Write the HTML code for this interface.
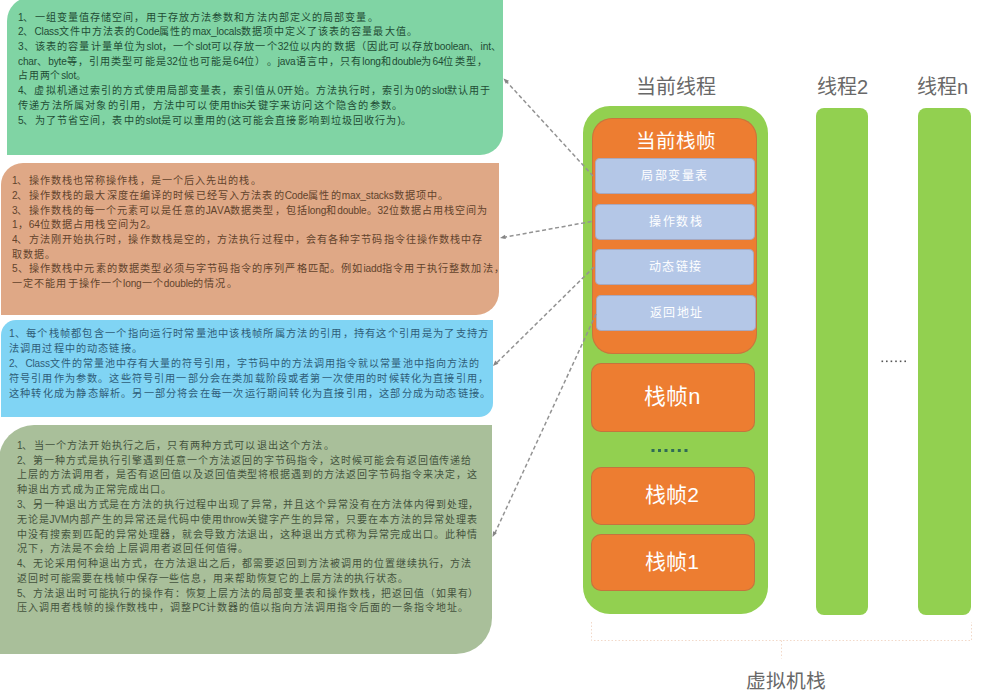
<!DOCTYPE html>
<html lang="zh-CN"><head><meta charset="utf-8">
<style>
html,body{margin:0;padding:0;background:#fff;width:1000px;height:699px;overflow:hidden;position:relative;font-family:"Liberation Sans",sans-serif;}
.a{position:absolute;}
.box{position:absolute;}
.t{position:absolute;white-space:nowrap;font-size:10px;letter-spacing:1px;font-weight:500;line-height:14px;transform-origin:0 0;text-spacing-trim:space-all;font-kerning:none;}
.t i{font-style:normal;letter-spacing:-0.15px;}
.lbl{position:absolute;white-space:nowrap;text-align:center;}
</style></head><body>

<!-- left boxes -->
<div class="box" style="left:7px;top:-3px;width:496px;height:158px;background:#80d4a4;border-radius:24px 0 23px 0;"></div>
<div class="box" style="left:1px;top:163px;width:498px;height:151.5px;background:#dfa886;border-radius:22px 0 23px 0;"></div>
<div class="box" style="left:1px;top:320px;width:492px;height:97px;background:#80d4f4;border-radius:15px 0 14px 0;"></div>
<div class="box" style="left:-1px;top:425px;width:493px;height:229px;background:#a9bf9a;border-radius:35px 0 36px 0;"></div>

<div class="t" id="green0" style="left:18.0px;top:10.90px;color:#1f4c34;transform:scaleX(1.0091)"><i>1</i>、一组变量值存储空间，用于存放方法参数和方法内部定义的局部变量。</div>
<div class="t" id="green1" style="left:18.0px;top:25.40px;color:#1f4c34;transform:scaleX(1.0027)"><i>2</i>、<i>Class</i>文件中方法表的<i>Code</i>属性的<i>max_locals</i>数据项中定义了该表的容量最大值。</div>
<div class="t" id="green2" style="left:18.0px;top:40.40px;color:#1f4c34;transform:scaleX(1.0172)"><i>3</i>、该表的容量计量单位为<i>slot</i>，一个<i>slot</i>可以存放一个<i>32</i>位以内的数据（因此可以存放<i>boolean</i>、<i>int</i>、</div>
<div class="t" id="green3" style="left:17.5px;top:54.90px;color:#1f4c34;transform:scaleX(1.0110)"><i>char</i>、<i>byte</i>等，引用类型可能是<i>32</i>位也可能是<i>64</i>位）。<i>java</i>语言中，只有<i>long</i>和<i>double</i>为<i>64</i>位类型，</div>
<div class="t" id="green4" style="left:18.0px;top:69.40px;color:#1f4c34;transform:scaleX(0.9836)">占用两个<i>slot</i>。</div>
<div class="t" id="green5" style="left:18.0px;top:84.40px;color:#1f4c34;transform:scaleX(1.0043)"><i>4</i>、虚拟机通过索引的方式使用局部变量表，索引值从<i>0</i>开始。方法执行时，索引为<i>0</i>的<i>slot</i>默认用于</div>
<div class="t" id="green6" style="left:18.0px;top:99.40px;color:#1f4c34;transform:scaleX(1.0194)">传递方法所属对象的引用，方法中可以使用<i>this</i>关键字来访问这个隐含的参数。</div>
<div class="t" id="green7" style="left:18.0px;top:114.40px;color:#1f4c34;transform:scaleX(1.0107)"><i>5</i>、为了节省空间，表中的<i>slot</i>是可以重用的<i>(</i>这可能会直接影响到垃圾回收行为<i>)</i>。</div>
<div class="t" id="peach0" style="left:11.5px;top:173.60px;color:#62432c;transform:scaleX(1.0089)"><i>1</i>、操作数栈也常称操作栈，是一个后入先出的栈。</div>
<div class="t" id="peach1" style="left:11.5px;top:188.60px;color:#62432c;transform:scaleX(1.0121)"><i>2</i>、操作数栈的最大深度在编译的时候已经写入方法表的<i>Code</i>属性的<i>max_stacks</i>数据项中。</div>
<div class="t" id="peach2" style="left:11.5px;top:203.60px;color:#62432c;transform:scaleX(1.0064)"><i>3</i>、操作数栈的每一个元素可以是任意的<i>JAVA</i>数据类型，包括<i>long</i>和<i>double</i>。<i>32</i>位数据占用栈空间为</div>
<div class="t" id="peach3" style="left:11.5px;top:218.10px;color:#62432c;transform:scaleX(1.0150)"><i>1</i>，<i>64</i>位数据占用栈空间为<i>2</i>。</div>
<div class="t" id="peach4" style="left:11.5px;top:232.60px;color:#62432c;transform:scaleX(1.0086)"><i>4</i>、方法刚开始执行时，操作数栈是空的，方法执行过程中，会有各种字节码指令往操作数栈中存</div>
<div class="t" id="peach5" style="left:11.5px;top:247.60px;color:#62432c;transform:scaleX(1.0000)">取数据。</div>
<div class="t" id="peach6" style="left:11.5px;top:262.10px;color:#62432c;transform:scaleX(1.0147)"><i>5</i>、操作数栈中元素的数据类型必须与字节码指令的序列严格匹配。例如<i>iadd</i>指令用于执行整数加法，</div>
<div class="t" id="peach7" style="left:11.5px;top:276.60px;color:#62432c;transform:scaleX(1.0100)">一定不能用于操作一个<i>long</i>一个<i>double</i>的情况。</div>
<div class="t" id="blue0" style="left:9.0px;top:326.60px;color:#2f5d78;transform:scaleX(1.0281)"><i>1</i>、每个栈帧都包含一个指向运行时常量池中该栈帧所属方法的引用，持有这个引用是为了支持方</div>
<div class="t" id="blue1" style="left:9.0px;top:341.60px;color:#2f5d78;transform:scaleX(1.0150)">法调用过程中的动态链接。</div>
<div class="t" id="blue2" style="left:9.0px;top:356.60px;color:#2f5d78;transform:scaleX(1.0021)"><i>2</i>、<i>Class</i>文件的常量池中存有大量的符号引用，字节码中的方法调用指令就以常量池中指向方法的</div>
<div class="t" id="blue3" style="left:9.0px;top:371.60px;color:#2f5d78;transform:scaleX(1.0151)">符号引用作为参数。这些符号引用一部分会在类加载阶段或者第一次使用的时候转化为直接引用，</div>
<div class="t" id="blue4" style="left:9.0px;top:386.60px;color:#2f5d78;transform:scaleX(1.0197)">这种转化成为静态解析。另一部分将会在每一次运行期间转化为直接引用，这部分成为动态链接。</div>
<div class="t" id="gray0" style="left:16.5px;top:438.80px;color:#44533d;transform:scaleX(1.0136)"><i>1</i>、当一个方法开始执行之后，只有两种方式可以退出这个方法。</div>
<div class="t" id="gray1" style="left:16.5px;top:453.59px;color:#44533d;transform:scaleX(0.9978)"><i>2</i>、第一种方式是执行引擎遇到任意一个方法返回的字节码指令，这时候可能会有返回值传递给</div>
<div class="t" id="gray2" style="left:16.5px;top:468.38px;color:#44533d;transform:scaleX(0.9978)">上层的方法调用者，是否有返回值以及返回值类型将根据遇到的方法返回字节码指令来决定，这</div>
<div class="t" id="gray3" style="left:16.5px;top:483.17px;color:#44533d;transform:scaleX(1.0100)">种退出方式成为正常完成出口。</div>
<div class="t" id="gray4" style="left:16.5px;top:497.96px;color:#44533d;transform:scaleX(0.9891)"><i>3</i>、另一种退出方式是在方法的执行过程中出现了异常，并且这个异常没有在方法体内得到处理，</div>
<div class="t" id="gray5" style="left:16.5px;top:512.75px;color:#44533d;transform:scaleX(1.0000)">无论是<i>JVM</i>内部产生的异常还是代码中使用<i>throw</i>关键字产生的异常，只要在本方法的异常处理表</div>
<div class="t" id="gray6" style="left:16.5px;top:527.54px;color:#44533d;transform:scaleX(0.9978)">中没有搜索到匹配的异常处理器，就会导致方法退出，这种退出方式称为异常完成出口。此种情</div>
<div class="t" id="gray7" style="left:16.5px;top:542.33px;color:#44533d;transform:scaleX(1.0052)">况下，方法是不会给上层调用者返回任何值得。</div>
<div class="t" id="gray8" style="left:16.5px;top:557.12px;color:#44533d;transform:scaleX(0.9978)"><i>4</i>、无论采用何种退出方式，在方法退出之后，都需要返回到方法被调用的位置继续执行，方法</div>
<div class="t" id="gray9" style="left:16.5px;top:571.91px;color:#44533d;transform:scaleX(0.9897)">返回时可能需要在栈帧中保存一些信息，用来帮助恢复它的上层方法的执行状态。</div>
<div class="t" id="gray10" style="left:16.5px;top:586.70px;color:#44533d;transform:scaleX(0.9891)"><i>5</i>、方法退出时可能执行的操作有：恢复上层方法的局部变量表和操作数栈，把返回值（如果有）</div>
<div class="t" id="gray11" style="left:16.5px;top:601.49px;color:#44533d;transform:scaleX(0.9954)">压入调用者栈帧的操作数栈中，调整<i>PC</i>计数器的值以指向方法调用指令后面的一条指令地址。</div>
<!-- right diagram -->
<div class="box" style="left:582.5px;top:105.5px;width:185px;height:508px;background:#92d050;border-radius:27px;"></div>
<div class="box" style="left:592px;top:118px;width:165px;height:236px;background:#ed7d31;border-radius:20px;box-shadow:inset 0 0 0 1px rgba(120,100,90,.3);"></div>
<div class="box" style="left:595px;top:157.5px;width:159.5px;height:36px;background:#b4c7e7;border-radius:5px;box-shadow:inset 0 0 0 1px rgba(150,130,140,.45);"></div>
<div class="box" style="left:595px;top:204px;width:159.5px;height:36px;background:#b4c7e7;border-radius:5px;box-shadow:inset 0 0 0 1px rgba(150,130,140,.45);"></div>
<div class="box" style="left:594.5px;top:248.5px;width:159.5px;height:36px;background:#b4c7e7;border-radius:5px;box-shadow:inset 0 0 0 1px rgba(150,130,140,.45);"></div>
<div class="box" style="left:596px;top:295px;width:160px;height:36px;background:#b4c7e7;border-radius:5px;box-shadow:inset 0 0 0 1px rgba(150,130,140,.45);"></div>

<div class="box" style="left:591px;top:362.5px;width:163.5px;height:69px;background:#ed7d31;border-radius:10px;box-shadow:inset 0 0 0 1px rgba(120,100,90,.35);"></div>
<div class="box" style="left:591px;top:467px;width:163.5px;height:57.5px;background:#ed7d31;border-radius:10px;box-shadow:inset 0 0 0 1px rgba(120,100,90,.35);"></div>
<div class="box" style="left:591px;top:533.5px;width:163.5px;height:57px;background:#ed7d31;border-radius:10px;box-shadow:inset 0 0 0 1px rgba(120,100,90,.35);"></div>

<div class="box" style="left:816px;top:108px;width:52px;height:507px;background:#92d050;border-radius:8px;"></div>
<div class="box" style="left:918px;top:107.5px;width:53px;height:507.5px;background:#92d050;border-radius:8px;"></div>


<!-- labels -->
<div class="lbl" id="L_cur" style="left:636px;top:71px;font-size:20px;color:#686868;">当前线程</div>
<div class="lbl" id="L_t2" style="left:817px;top:71px;font-size:20px;color:#686868;">线程2</div>
<div class="lbl" id="L_tn" style="left:917px;top:71px;font-size:20px;color:#686868;">线程n</div>
<div class="lbl" id="L_frame" style="left:636px;top:125px;font-size:19.6px;font-weight:500;color:#fff;">当前栈帧</div>
<div class="lbl" id="L_b1" style="left:641px;top:166px;font-size:12px;letter-spacing:1.5px;color:#fff;">局部变量表</div>
<div class="lbl" id="L_b2" style="left:649px;top:212px;font-size:12px;letter-spacing:1.5px;color:#fff;">操作数栈</div>
<div class="lbl" id="L_b3" style="left:648.5px;top:257.2px;font-size:12px;letter-spacing:1.5px;color:#fff;">动态链接</div>
<div class="lbl" id="L_b4" style="left:649.5px;top:303px;font-size:12px;letter-spacing:1.5px;color:#fff;">返回地址</div>
<div class="lbl" id="L_fn" style="left:644.3px;top:379.2px;font-size:21.8px;color:#fff;">栈帧n</div>
<div class="lbl" id="L_f2" style="left:645.3px;top:478px;font-size:21px;color:#fff;">栈帧2</div>
<div class="lbl" id="L_f1" style="left:645.3px;top:545px;font-size:21px;color:#fff;">栈帧1</div>
<div class="lbl" id="L_vm" style="left:745.7px;top:665px;font-size:19.8px;color:#686868;">虚拟机栈</div>

<svg class="a" style="left:0;top:0" width="1000" height="699" viewBox="0 0 1000 699">
 <g fill="#2f6b55">
  <rect x="651.5" y="449" width="3" height="3"/><rect x="658" y="449" width="3" height="3"/><rect x="664.5" y="449" width="3" height="3"/>
  <rect x="671.2" y="449" width="3" height="3"/><rect x="677.8" y="449" width="3" height="3"/><rect x="684.5" y="449" width="3" height="3"/>
 </g>
 <g fill="#555">
  <rect x="881.5" y="360.5" width="1.6" height="1.6"/><rect x="886" y="360.5" width="1.6" height="1.6"/><rect x="890.6" y="360.5" width="1.6" height="1.6"/>
  <rect x="895.2" y="360.5" width="1.6" height="1.6"/><rect x="899.8" y="360.5" width="1.6" height="1.6"/><rect x="904.4" y="360.5" width="1.6" height="1.6"/>
 </g>
 <path d="M591.5 622 V640.5 H971.5 V622 M781.5 640.5 V658.5" fill="none" stroke="#f2d9c9" stroke-width="1" stroke-dasharray="1.5 2"/>
 <g stroke="#939393" stroke-width="1.5" fill="none" stroke-dasharray="4 2.6">
  <path d="M593 176 L506 81"/>
  <path d="M591.5 221.5 L503 237.5"/>
  <path d="M594 267 L496 363.5"/>
  <path d="M596 314 L494.5 534"/>
 </g>
 <g fill="#858585">
  <path d="M503.5 78.5 l5.5 2.2 -3.2 3 z"/>
  <path d="M500 238 l5 -3.2 0.8 4.2 z"/>
  <path d="M493 366 l2.2 -5.5 3.2 3.2 z"/>
  <path d="M492.5 537 l0.6 -5.8 3.8 1.8 z"/>
 </g>
</svg>
</body></html>
